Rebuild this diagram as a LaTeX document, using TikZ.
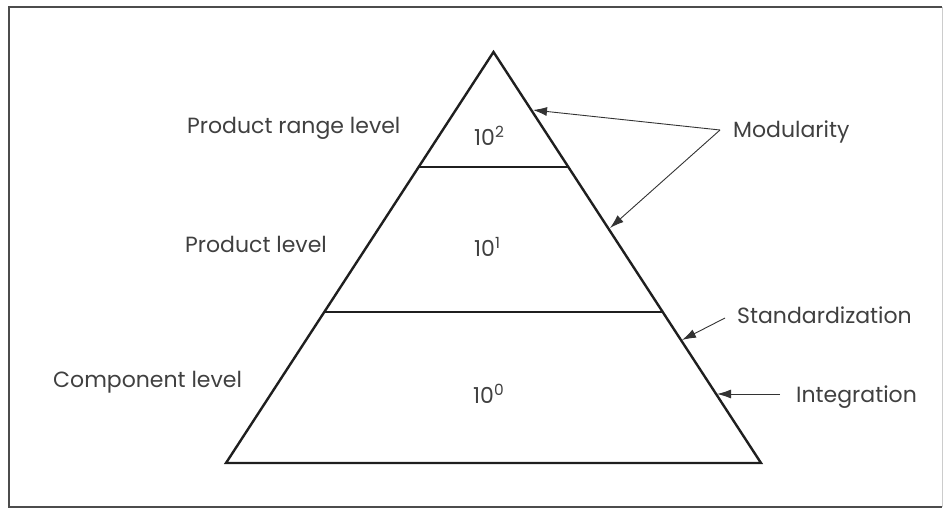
\documentclass[tikz,border=0pt]{standalone}
\usepackage{fontspec}
\setmainfont{Poppins}
\usetikzlibrary{arrows.meta,calc}
\begin{document}
\begin{tikzpicture}[x=1pt,y=-1pt,
  lbl/.style={inner sep=0pt, anchor=base west, font=\fontsize{22}{26}\selectfont, text=black!75},
  num/.style={inner sep=0pt, anchor=base west, font=\fontsize{22}{26}\selectfont, text=black!75},
  edge/.style={line width=2.4pt, draw=black!88, line join=miter},
  pointer/.style={line width=0.9pt, draw=black!80, -{Latex[length=14pt,width=9pt]}}]
\useasboundingbox (0,0) rectangle (946,509);
% frame
\draw[line width=2.6pt, draw=black!70] (942,7) -- (9,7) -- (9,507) -- (942,507);
\draw[line width=0.8pt, draw=black!20] (942,7) -- (942,507);
% pyramid
\coordinate (apex) at (493.5,52);
\coordinate (bl) at (226,463);
\coordinate (br) at (761,463);
\draw[edge] (apex) -- (bl) -- (br) -- cycle;
\coordinate (l1a) at ($(apex)!0.28!(bl)$);
\coordinate (l1b) at ($(apex)!0.28!(br)$);
\coordinate (l2a) at ($(apex)!0.633!(bl)$);
\coordinate (l2b) at ($(apex)!0.633!(br)$);
\draw[edge] (l1a) -- (l1b);
\draw[edge] (l2a) -- (l2b);
% numbers
\node[num] (n2) at (474,145) {10\textsuperscript{2}};
\node[num] (n1) at (474,256) {10\textsuperscript{1}};
\node[num] (n0) at (473,403) {10\textsuperscript{0}};
% left labels
\node[lbl] (prl) at (187,133) {Product range level};
\node[lbl] (pl) at (185,252) {Product level};
\node[lbl] (cl) at (53,387) {Component level};
% right labels
\node[lbl] (mod) at (733,137) {Modularity};
\node[lbl] (std) at (737,323) {Standardization};
\node[lbl] (intg) at (796,402) {Integration};
% arrow ends
\coordinate (ms) at (720,130);
\coordinate (m1) at (533,110);
\coordinate (m2) at (610,228);
\coordinate (ss) at (725,318);
\coordinate (s1) at (682,340);
\coordinate (is) at (780,394);
\coordinate (i1) at (717,394);
\draw[pointer] (ms) -- (m1);
\draw[pointer] (ms) -- (m2);
\draw[pointer] (ss) -- (s1);
\draw[pointer] (is) -- (i1);
\end{tikzpicture}
\end{document}
